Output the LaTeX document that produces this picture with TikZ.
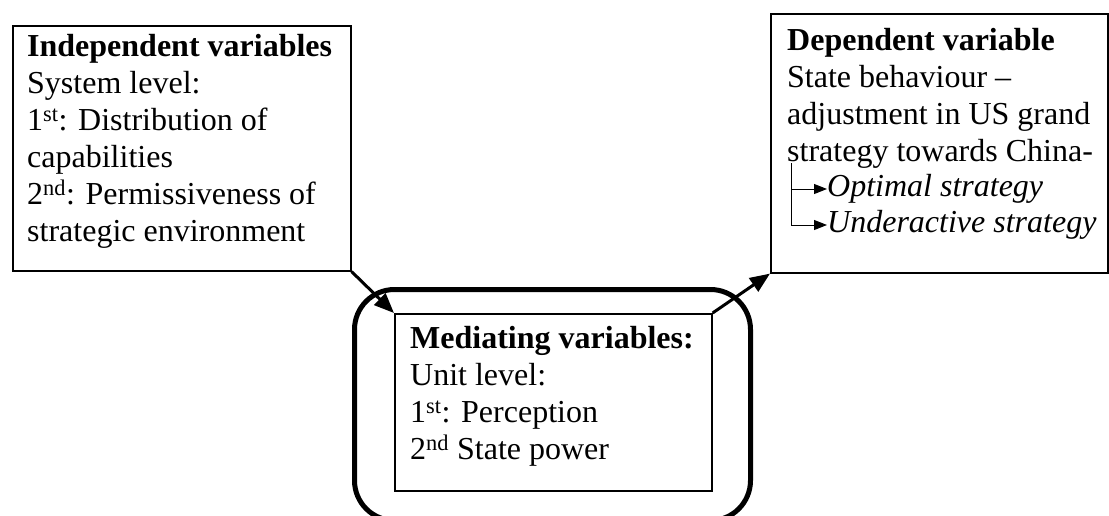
\documentclass[tikz,border=0pt]{standalone}
\usepackage{fontspec}
\setmainfont{Liberation Serif}
\usetikzlibrary{arrows.meta}

\begin{document}
\begin{tikzpicture}[
  x=1pt, y=-1pt,
  box/.style={draw, line width=1.6pt, inner sep=0pt, anchor=north west},
  frame/.style={draw, line width=5pt, rounded corners=40pt, inner sep=0pt, anchor=north west},
  txt/.style={anchor=north west, align=left, inner sep=0pt, font=\fontsize{32}{37}\selectfont},
  itxt/.style={anchor=base west, inner sep=0pt, font=\fontsize{32}{37}\selectfont\itshape},
  flow/.style={line width=3pt, -{Triangle[length=20pt, width=16pt]}},
  branch/.style={line width=1pt, -{Triangle[length=13pt, width=10pt]}}
]
\useasboundingbox (0,0) rectangle (1109,515);

% Boxes
\node[box, minimum width=338pt, minimum height=245pt] (indep) at (12,25) {};
\node[box, minimum width=337pt, minimum height=259pt] (dep)   at (770,13) {};
\node[frame, minimum width=396pt, minimum height=231pt] (medframe) at (352,287) {};
\node[box, minimum width=317pt, minimum height=177pt] (med)   at (394,313) {};

% Texts
\node[txt] (indeptxt) at (27,34) {\textbf{Independent variables}\\
  System level:\\
  1\textsuperscript{st}: Distribution of\\
  capabilities\\
  2\textsuperscript{nd}: Permissiveness of\\
  strategic environment};
\node[txt] (deptxt) at (787,28) {\textbf{Dependent variable}\\
  State behaviour --\\
  adjustment in US grand\\
  strategy towards China-};
\node[itxt] (optimal)     at (827,196) {Optimal strategy};
\node[itxt] (underactive) at (827,232) {Underactive strategy};
\node[txt] (medtxt) at (410,326) {\textbf{Mediating variables:}\\
  Unit level:\\
  1\textsuperscript{st}: Perception\\
  2\textsuperscript{nd} State power};

% Arrows
\coordinate (fork) at (791,163);
\draw[branch] (fork) |- ([yshift=7pt]optimal.base west);
\draw[branch] (fork) |- ([yshift=7pt]underactive.base west);
\draw[flow] (indep.south east) -- (med.north west);
\draw[flow] (med.north east) -- (dep.south west);
\end{tikzpicture}
\end{document}
